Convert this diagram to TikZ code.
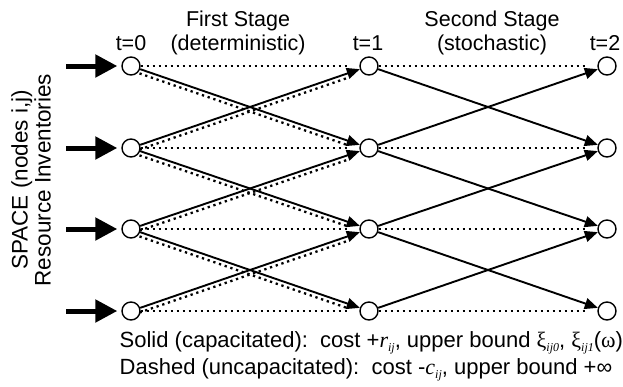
\documentclass[tikz,border=0pt]{standalone}
\usepackage{fontspec}
\setmainfont{Liberation Sans}
\newfontfamily\serifit{Liberation Serif}
\usetikzlibrary{arrows.meta}
\newcommand\mysub[1]{\raisebox{-0.22em}{\fontsize{12}{12}\selectfont\serifit\itshape #1}}
\newcommand\myit[1]{{\serifit\itshape #1}}
\begin{document}
\begin{tikzpicture}[x=1pt,y=-1pt,
  st/.style={circle,draw,line width=1.4pt,fill=white,minimum size=18pt,inner sep=0pt},
  solidarc/.style={line width=1.9pt,-{Triangle[length=13pt,width=11pt]}},
  dotarc/.style={line width=2.3pt,dash pattern=on 2.3pt off 3.7pt},
  inarrow/.style={line width=5pt,-{Triangle[length=22pt,width=22pt]}},
  lbl/.style={font=\fontsize{21.5}{22}\selectfont,inner sep=0pt},
  side/.style={font=\fontsize{22.5}{23}\selectfont,inner sep=0pt},
  foot/.style={font=\fontsize{22}{22}\selectfont,inner sep=0pt}]
\useasboundingbox (0,0) rectangle (623,386);
% nodes
\foreach \c/\x in {0/131,1/369,2/607}{
  \foreach \r/\y in {1/66,2/148,3/229,4/311}{
    \node[st] (n\c\r) at (\x,\y) {};
  }
}
% input arrows
\foreach \r/\y in {1/66,2/148,3/229,4/311}{
  \coordinate (in\r) at (66,\y);
  \draw[inarrow] (in\r) -- ([xshift=-4pt]n0\r.west);
}
% horizontal dotted
\foreach \r in {1,2,3,4}{
  \draw[dotarc,shorten >=12pt] (n0\r.east) -- (n1\r.west);
  \draw[dotarc,shorten >=12pt] (n1\r.east) -- (n2\r.west);
}
% diagonals
\foreach \a/\b in {1/2,2/1,2/3,3/2,3/4,4/3}{
  \draw[dotarc,shorten <=9pt,shorten >=22pt] ([yshift=-4.5pt]n0\a.center) -- ([yshift=-4.5pt]n1\b.center);
  \draw[solidarc] (n0\a) -- (n1\b);
  \draw[solidarc] (n1\a) -- (n2\b);
}
% labels
\node[lbl,anchor=base] (t0) at (131,50) {t=0};
\node[lbl,anchor=base] (t1) at (368,50) {t=1};
\node[lbl,anchor=base] (t2) at (605,50) {t=2};
\node[lbl,anchor=base] (fs) at (238,26) {First Stage};
\node[lbl,anchor=base] (fd) at (238,50) {(deterministic)};
\node[lbl,anchor=base] (ss) at (492,26) {Second Stage};
\node[lbl,anchor=base] (sd) at (492,50) {(stochastic)};
\node[side,rotate=90,align=center] (space) at (31,180) {SPACE (nodes i,j)\\[0pt]Resource Inventories};
\node[foot,anchor=base west] (l1) at (119.5,347) {Solid (capacitated):\ \ cost +\myit{r}\mysub{ij}, upper bound {\serifit ξ}\mysub{ij0}, {\serifit ξ}\mysub{ij1}({\serifit ω})};
\node[foot,anchor=base west] (l2) at (119.5,374) {Dashed (uncapacitated):\ \ cost -\myit{c}\mysub{ij}, upper bound +∞};
\end{tikzpicture}
\end{document}
